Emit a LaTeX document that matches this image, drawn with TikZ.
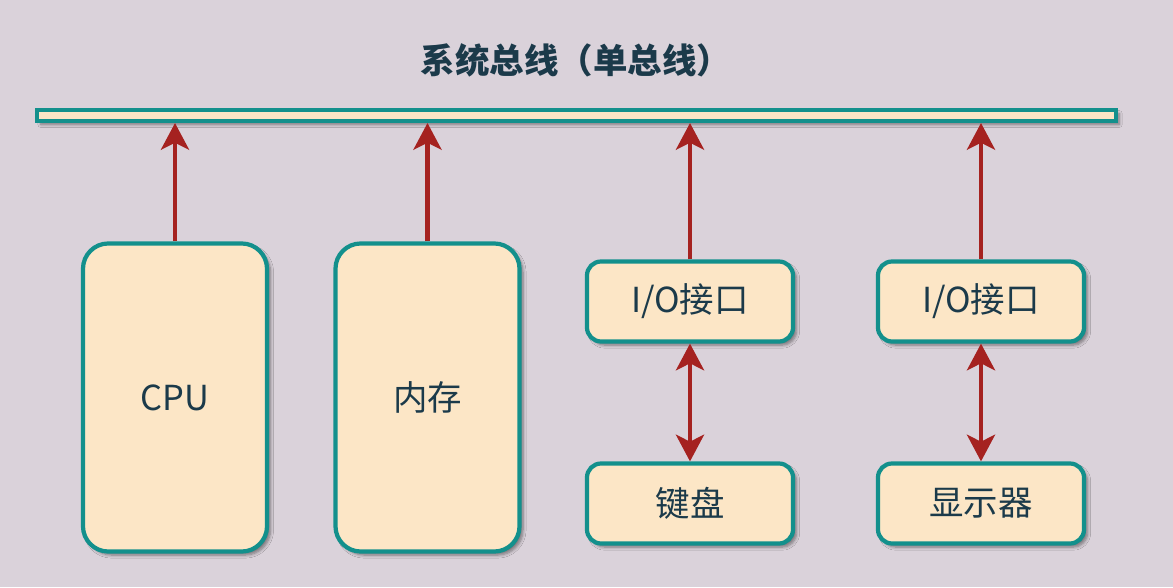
\documentclass[tikz,border=0pt]{standalone}
\usepackage{fontspec}
\setmainfont{Noto Sans CJK SC}
\usepackage{tikz}
\usetikzlibrary{arrows.meta,positioning,shadows.blur,calc}
\definecolor{bgcol}{HTML}{DAD2DA}
\definecolor{boxfill}{HTML}{FCE6C6}
\definecolor{boxline}{HTML}{13908C}
\definecolor{arrcol}{HTML}{A52220}
\definecolor{txtcol}{HTML}{1B3A4A}

\begin{document}
\begin{tikzpicture}[x=0.025cm,y=-0.025cm,
  box/.style={draw=boxline,line width=3pt,fill=boxfill,rounded corners=18pt,
    text=txtcol,font=\fontsize{24.5}{28}\selectfont,
    blur shadow={shadow xshift=2.5pt,shadow yshift=-2.5pt,shadow blur steps=6,shadow opacity=45}},
  tallbox/.style={box,minimum width=4.6cm,minimum height=7.7cm},
  iobox/.style={box,minimum width=5.15cm,minimum height=2.0cm,rounded corners=10pt},
  busbar/.style={draw=boxline,line width=3pt,fill=boxfill,minimum width=26.95cm,minimum height=0.27cm,inner sep=0pt,
    blur shadow={shadow xshift=2.5pt,shadow yshift=-2.5pt,shadow blur steps=6,shadow opacity=45}},
  link/.style={draw=arrcol,line width=3pt,-{Stealth[length=19pt,width=20pt,inset=5pt]}},
  duplex/.style={link,{Stealth[length=19pt,width=20pt,inset=5pt]}-{Stealth[length=19pt,width=20pt,inset=5pt]}}]
\fill[bgcol] (0,0) rectangle (1173,587);
\useasboundingbox (0,0) rectangle (1173,587);
\node[text=txtcol,font=\fontsize{24.5}{28}\selectfont\bfseries] (title) at (576,60) {系统总线（单总线）};
\node[busbar] (bus) at (576.5,115.5) {};
\node[tallbox] (cpu) at (175,397.5) {CPU};
\node[tallbox] (mem) at (427.5,397.5) {内存};
\node[iobox] (ioa) at (690,301.5) {I/O接口};
\node[iobox] (kbd) at (690,503.5) {键盘};
\node[iobox] (iob) at (981,301.5) {I/O接口};
\node[iobox] (disp) at (981,503.5) {显示器};
\draw[link] (cpu.north) -- (cpu.north |- bus.south);
\draw[link] (mem.north) -- (mem.north |- bus.south);
\draw[link] (ioa.north) -- (ioa.north |- bus.south);
\draw[link] (iob.north) -- (iob.north |- bus.south);
\draw[duplex] (ioa.south) -- (kbd.north);
\draw[duplex] (iob.south) -- (disp.north);
\end{tikzpicture}
\end{document}
